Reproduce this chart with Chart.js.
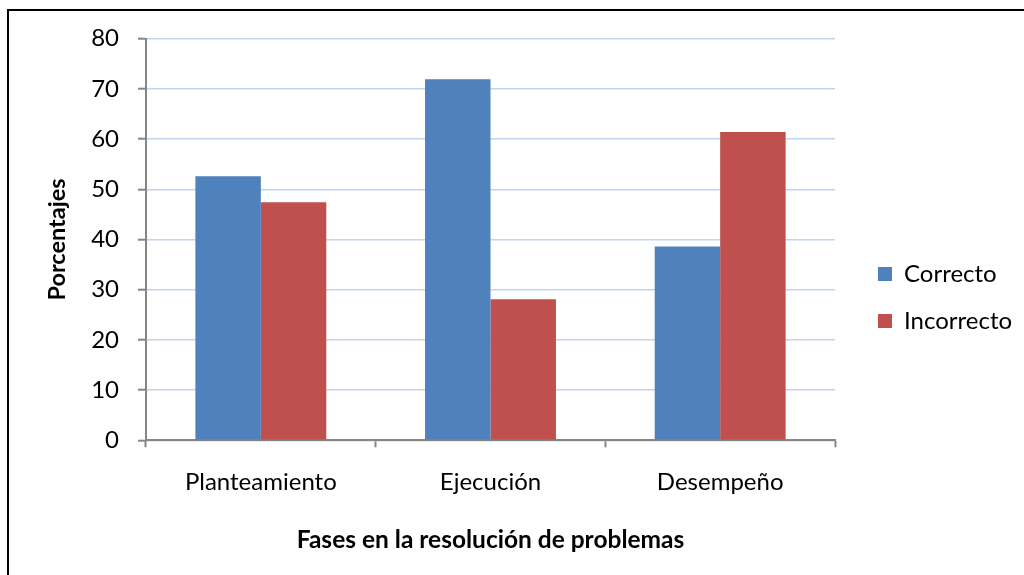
<!DOCTYPE html>
<html>
<head>
<meta charset="utf-8">
<script src="https://cdn.jsdelivr.net/npm/chart.js@4.4.1/dist/chart.umd.min.js"></script>
<style>
  html, body { margin: 0; padding: 0; background: #ffffff; }
  #wrap { width: 1024px; height: 575px; position: relative; overflow: hidden; }
</style>
</head>
<body>
<div id="wrap"><canvas id="c" width="1024" height="575"></canvas></div>
<script>
const categories = ['Planteamiento', 'Ejecución', 'Desempeño'];
const seriesNames = ['Correcto', 'Incorrecto'];
const correcto = [52.6, 71.9, 38.6];
const incorrecto = [47.4, 28.1, 61.4];
const yMin = 0, yMax = 80, yStep = 10;
const yTitle = 'Porcentajes';
const xTitle = 'Fases en la resolución de problemas';

const FONT = 'Lato';
const labelSize = 24;
const xTitleSize = 24.5;
const yTitleSize = 23.5;

// layout targets
const plotLeft = 146, plotRight = 835, plotTop = 38.7, plotBottom = 440.3;
const legendBoxX = 878;
const legendPad = 23;

// measure legend text width to place legend
const mctx = document.createElement('canvas').getContext('2d');
mctx.font = labelSize + 'px ' + FONT;
const tw = Math.max(...seriesNames.map(s => mctx.measureText(s).width));
const legendWidth = legendPad + 14 + labelSize / 2 + tw + 10;
const legendLeft = legendBoxX - legendPad;
const padRight = 1024 - legendLeft - legendWidth;
const padTop = plotTop;
const padBottom = padTop - 20;

const borderPlugin = {
  id: 'outerBorder',
  beforeDraw(chart) {
    const ctx = chart.ctx;
    ctx.save();
    ctx.fillStyle = '#ffffff';
    ctx.fillRect(0, 0, chart.width, chart.height);
    ctx.strokeStyle = '#000000';
    ctx.lineWidth = 2;
    ctx.strokeRect(8, 10, 1200, 800);
    ctx.restore();
  }
};

new Chart(document.getElementById('c'), {
  type: 'bar',
  data: {
    labels: categories,
    datasets: [
      { label: seriesNames[0], data: correcto, backgroundColor: '#4F81BD', borderWidth: 0,
        categoryPercentage: 0.57, barPercentage: 1.0 },
      { label: seriesNames[1], data: incorrecto, backgroundColor: '#C0504D', borderWidth: 0,
        categoryPercentage: 0.57, barPercentage: 1.0 }
    ]
  },
  options: {
    responsive: false,
    animation: false,
    devicePixelRatio: 1,
    layout: { padding: { left: 0, right: padRight, top: padTop, bottom: padBottom } },
    plugins: {
      legend: {
        position: 'right',
        align: 'center',
        labels: {
          boxWidth: 14, boxHeight: 14, padding: legendPad,
          color: '#000000',
          font: { family: FONT, size: labelSize }
        }
      },
      tooltip: { enabled: false }
    },
    scales: {
      x: {
        grid: { display: true, drawOnChartArea: false, drawTicks: true, tickLength: 7,
                tickColor: '#868686', tickWidth: 2, offset: true },
        border: { display: true, color: '#868686', width: 2 },
        ticks: { color: '#000000', padding: 21, font: { family: FONT, size: labelSize } },
        title: { display: true, text: xTitle, color: '#000000',
                 font: { family: FONT, size: xTitleSize, weight: 'bold' },
                 padding: { top: 0, bottom: 2 } },
        afterFit(s) { s.height = 575 - padBottom - plotBottom; }
      },
      y: {
        min: yMin, max: yMax,
        ticks: { stepSize: yStep, color: '#000000', padding: 19, font: { family: FONT, size: labelSize } },
        grid: { color: '#C2D5EE', lineWidth: 1.4, drawTicks: true, tickLength: 8,
                tickColor: '#868686', tickWidth: 2 },
        border: { display: true, color: '#868686', width: 2 },
        title: { display: true, text: yTitle, color: '#000000',
                 font: { family: FONT, size: yTitleSize, weight: 'bold' },
                 padding: { top: 43, bottom: 0 } },
        afterFit(s) { s.width = plotLeft; }
      },
      ySpacer: {
        position: 'right',
        display: true,
        min: yMin, max: yMax,
        grid: { display: false, drawTicks: false },
        border: { display: false },
        ticks: { display: false },
        afterFit(s) { s.width = legendLeft - plotRight; }
      }
    }
  },
  plugins: [borderPlugin]
});
</script>
</body>
</html>
